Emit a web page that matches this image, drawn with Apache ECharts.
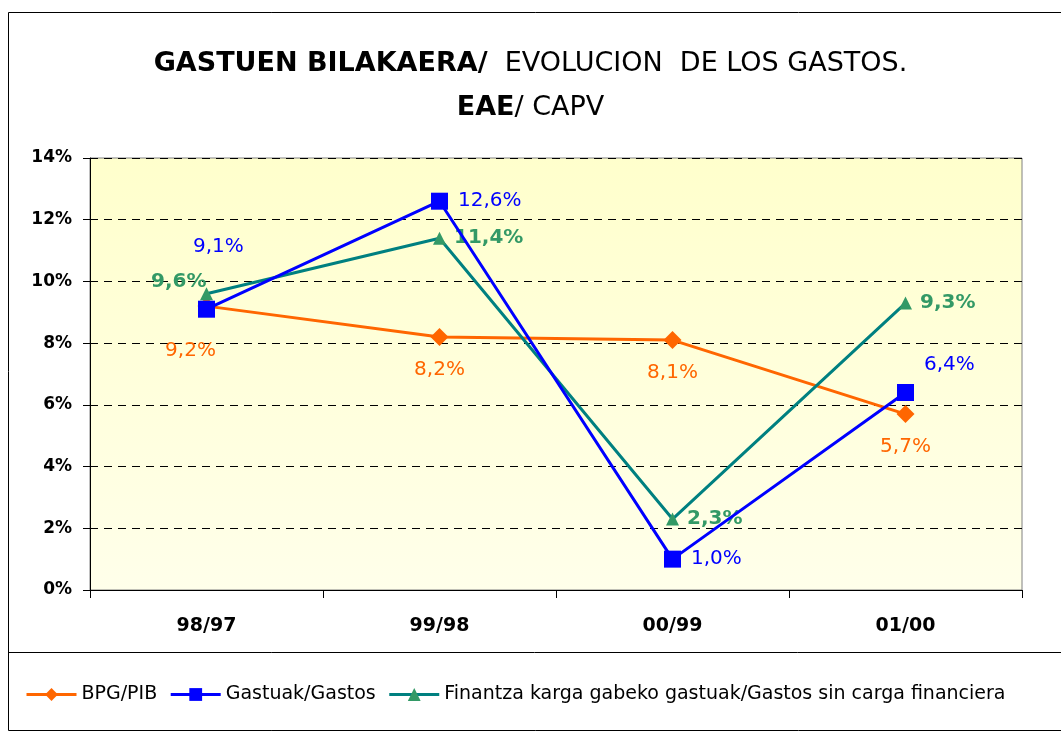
<!DOCTYPE html>
<html>
<head>
<meta charset="utf-8">
<script src="https://cdn.jsdelivr.net/npm/echarts@6/dist/echarts.min.js"></script>
<style>
  html, body { margin: 0; padding: 0; background: #fff; }
  #chart { width: 1061px; height: 733px; }
</style>
</head>
<body>
<div id="chart"></div>
<script>
// datos
const categories = ['98/97', '99/98', '00/99', '01/00']
const bpgPib = [9.2, 8.2, 8.1, 5.7]
const gastos = [9.1, 12.6, 1.0, 6.4]
const gastosSinCarga = [9.6, 11.4, 2.3, 9.3]
const seriesNames = ['BPG/PIB', 'Gastuak/Gastos', 'Finantza karga gabeko gastuak/Gastos sin carga financiera']

const font = '"DejaVu Sans", sans-serif'
const fmt = (p) => p.value.toFixed(1).replace('.', ',') + '%'

const chart = echarts.init(document.getElementById('chart'))

const option = {
  animation: false,
  title: {
    text: '{b|GASTUEN BILAKAERA/}  EVOLUCION  DE LOS GASTOS.\n{b|EAE}/ CAPV',
    left: 'center',
    top: 37,
    textStyle: {
      fontFamily: font,
      fontSize: 27,
      fontWeight: 'normal',
      color: '#000',
      lineHeight: 44,
      rich: {
        b: { fontFamily: font, fontSize: 27, fontWeight: 'bold', color: '#000', lineHeight: 44 }
      }
    }
  },
  graphic: [
    { type: 'rect', shape: { x: 8.5, y: 12.5, width: 1070, height: 718 }, style: { fill: 'none', stroke: '#000', lineWidth: 1 }, z: -1 },
    { type: 'line', shape: { x1: 8, y1: 652.5, x2: 1061, y2: 652.5 }, style: { stroke: '#000', lineWidth: 1 } }
  ],
  legend: {
    left: 20,
    top: 680,
    itemGap: 12,
    itemWidth: 50,
    itemHeight: 16,
    lineStyle: { width: 3 },
    textStyle: { fontFamily: font, fontSize: 19, color: '#000' },
    data: seriesNames
  },
  grid: {
    left: 90,
    right: 39,
    top: 158,
    bottom: 143,
    show: true,
    borderColor: '#808080',
    borderWidth: 1,
    backgroundColor: new echarts.graphic.LinearGradient(0, 0, 0, 1, [
      { offset: 0, color: '#FFFFCC' },
      { offset: 1, color: '#FFFFEA' }
    ])
  },
  xAxis: {
    type: 'category',
    data: categories,
    boundaryGap: true,
    axisLine: { lineStyle: { color: '#000', width: 1 } },
    axisTick: { show: true, length: 8, lineStyle: { color: '#000' } },
    axisLabel: { fontFamily: font, fontSize: 19, fontWeight: 'bold', color: '#000', margin: 27 }
  },
  yAxis: {
    type: 'value',
    min: 0,
    max: 14,
    interval: 2,
    axisLine: { show: true, lineStyle: { color: '#000', width: 1 } },
    axisTick: { show: true, length: 7, lineStyle: { color: '#000' } },
    axisLabel: { fontFamily: font, fontSize: 17, fontWeight: 'bold', color: '#000', formatter: '{value}%', margin: 18 },
    splitLine: { lineStyle: { color: '#000', type: [8, 6], width: 1 } }
  },
  series: [
    {
      name: seriesNames[0],
      type: 'line',
      data: bpgPib,
      symbol: 'diamond',
      symbolSize: 18,
      color: '#FF6600',
      lineStyle: { color: '#FF6600', width: 3 },
      itemStyle: { color: '#FF6600' },
      label: {
        show: true,
        position: 'bottom',
        distance: 14,
        formatter: fmt,
        fontFamily: font,
        fontSize: 20,
        color: '#FF6600'
      },
      labelLayout: (p) => {
        if (p.dataIndex === 0) return { dx: -16, dy: 12 }
        return {}
      },
      z: 2
    },
    {
      name: seriesNames[1],
      type: 'line',
      data: gastos,
      symbol: 'rect',
      symbolSize: 17,
      color: '#0000FF',
      lineStyle: { color: '#0000FF', width: 3 },
      itemStyle: { color: '#0000FF' },
      label: {
        show: true,
        formatter: fmt,
        fontFamily: font,
        fontSize: 20,
        color: '#0000FF',
        position: 'right',
        distance: 10
      },
      labelLayout: (p) => {
        if (p.dataIndex === 0) return { dx: -32, dy: -62 }
        if (p.dataIndex === 3) return { dx: 0, dy: -28 }
        return {}
      },
      z: 3
    },
    {
      name: seriesNames[2],
      type: 'line',
      data: gastosSinCarga,
      symbol: 'triangle',
      symbolSize: 13,
      color: '#008080',
      lineStyle: { color: '#008080', width: 3 },
      itemStyle: { color: '#339966' },
      label: {
        show: true,
        formatter: fmt,
        fontFamily: font,
        fontSize: 20,
        fontWeight: 'bold',
        color: '#339966',
        position: 'right',
        distance: 8
      },
      labelLayout: (p) => {
        if (p.dataIndex === 0) return { dx: -70, dy: -12 }
        return {}
      },
      z: 2
    }
  ]
}

chart.setOption(option)
</script>
</body>
</html>
